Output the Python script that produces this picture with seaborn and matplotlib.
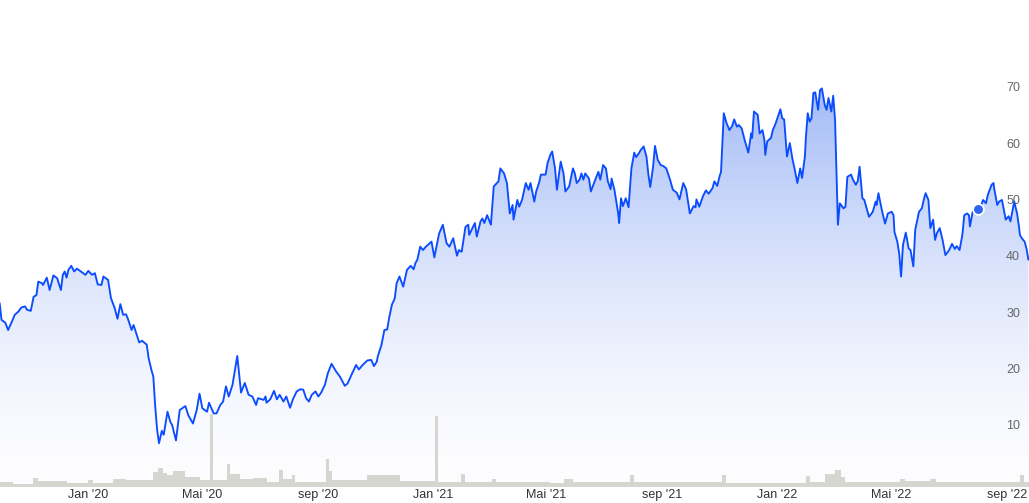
import numpy as np
import pandas as pd
import matplotlib
matplotlib.use("Agg")
import matplotlib.pyplot as plt
import matplotlib.dates as mdates
from matplotlib.ticker import FixedLocator, FixedFormatter
import seaborn as sns

# ---------------- data ----------------
dates = [
"2019-09-29","2019-10-01","2019-10-05","2019-10-08","2019-10-12","2019-10-15","2019-10-19","2019-10-22","2019-10-26","2019-10-28",
"2019-11-01","2019-11-04","2019-11-07","2019-11-09","2019-11-13","2019-11-14","2019-11-18","2019-11-21","2019-11-25","2019-11-29",
"2019-12-03","2019-12-05","2019-12-07","2019-12-09","2019-12-11","2019-12-14","2019-12-17","2019-12-20","2019-12-25","2019-12-29",
"2020-01-01","2020-01-05","2020-01-08","2020-01-11","2020-01-15","2020-01-17","2020-01-22","2020-01-25","2020-01-29","2020-02-01",
"2020-02-04","2020-02-07","2020-02-10","2020-02-12","2020-02-16","2020-02-18","2020-02-24","2020-02-27","2020-03-03","2020-03-05",
"2020-03-08","2020-03-10","2020-03-12","2020-03-14","2020-03-16","2020-03-19","2020-03-21","2020-03-25","2020-03-28","2020-03-30",
"2020-04-03","2020-04-07","2020-04-13","2020-04-16","2020-04-21","2020-04-25","2020-04-28","2020-05-01","2020-05-06","2020-05-08",
"2020-05-13","2020-05-16","2020-05-20","2020-05-23","2020-05-26","2020-05-29","2020-06-02","2020-06-07","2020-06-11","2020-06-15",
"2020-06-19","2020-06-23","2020-06-27","2020-06-29","2020-07-05","2020-07-07","2020-07-08","2020-07-12","2020-07-16","2020-07-19",
"2020-07-22","2020-07-26","2020-07-29","2020-08-02","2020-08-05","2020-08-09","2020-08-13","2020-08-16","2020-08-19","2020-08-22",
"2020-08-25","2020-08-29","2020-09-01","2020-09-04","2020-09-08","2020-09-11","2020-09-15","2020-09-20","2020-09-24","2020-09-29",
"2020-10-02","2020-10-06","2020-10-11","2020-10-14","2020-10-18","2020-10-23","2020-10-27","2020-10-30","2020-11-02","2020-11-03",
"2020-11-07","2020-11-10","2020-11-13","2020-11-15","2020-11-18","2020-11-21","2020-11-23","2020-11-26","2020-11-30","2020-12-04",
"2020-12-08","2020-12-11","2020-12-13","2020-12-15","2020-12-18","2020-12-21","2020-12-24","2020-12-30","2021-01-02","2021-01-07",
"2021-01-11","2021-01-15","2021-01-18","2021-01-22","2021-01-26","2021-01-28","2021-01-31","2021-02-04","2021-02-07","2021-02-08",
"2021-02-14","2021-02-16","2021-02-20","2021-02-22","2021-02-24","2021-02-27","2021-03-03","2021-03-06","2021-03-11","2021-03-13",
"2021-03-17","2021-03-20","2021-03-23","2021-03-26","2021-03-27","2021-03-31","2021-04-02","2021-04-05","2021-04-09","2021-04-12",
"2021-04-14","2021-04-18","2021-04-20","2021-04-23","2021-04-25","2021-04-30","2021-05-02","2021-05-05","2021-05-07","2021-05-10",
"2021-05-12","2021-05-16","2021-05-19","2021-05-21","2021-05-25","2021-05-29","2021-05-31","2021-06-02","2021-06-05","2021-06-07",
"2021-06-09","2021-06-11","2021-06-15","2021-06-17","2021-06-21","2021-06-25","2021-06-27","2021-06-30","2021-07-03","2021-07-05",
"2021-07-08","2021-07-09","2021-07-12","2021-07-16","2021-07-17","2021-07-19","2021-07-21","2021-07-24","2021-07-27","2021-07-30",
"2021-08-02","2021-08-04","2021-08-07","2021-08-09","2021-08-12","2021-08-15","2021-08-17","2021-08-19","2021-08-22","2021-08-24",
"2021-08-27","2021-08-30","2021-09-02","2021-09-05","2021-09-09","2021-09-12","2021-09-16","2021-09-19","2021-09-23","2021-09-26",
"2021-09-30","2021-10-04","2021-10-06","2021-10-07","2021-10-10","2021-10-14","2021-10-17","2021-10-20","2021-10-24","2021-10-26",
"2021-10-29","2021-11-01","2021-11-02","2021-11-05","2021-11-08","2021-11-11","2021-11-14","2021-11-16","2021-11-19","2021-11-21",
"2021-11-24","2021-11-27","2021-12-01","2021-12-04","2021-12-05","2021-12-07","2021-12-11","2021-12-13","2021-12-16","2021-12-18",
"2021-12-19","2021-12-21","2021-12-25","2021-12-27","2021-12-30","2022-01-04","2022-01-06","2022-01-08","2022-01-11","2022-01-14",
"2022-01-17","2022-01-19","2022-01-22","2022-01-25","2022-01-27","2022-01-30","2022-01-31","2022-02-02","2022-02-04","2022-02-06",
"2022-02-08","2022-02-10","2022-02-13","2022-02-15","2022-02-17","2022-02-20","2022-02-22","2022-02-24","2022-02-27","2022-03-01",
"2022-03-03","2022-03-06","2022-03-08","2022-03-12","2022-03-14","2022-03-16","2022-03-20","2022-03-22","2022-03-25","2022-03-27",
"2022-03-29","2022-04-01","2022-04-03","2022-04-08","2022-04-12","2022-04-15","2022-04-16","2022-04-18","2022-04-22","2022-04-25",
"2022-04-28","2022-05-02","2022-05-04","2022-05-05","2022-05-08","2022-05-10","2022-05-12","2022-05-14","2022-05-17","2022-05-20",
"2022-05-22","2022-05-25","2022-05-27","2022-05-31","2022-06-03","2022-06-05","2022-06-07","2022-06-10","2022-06-12","2022-06-15",
"2022-06-17","2022-06-19","2022-06-22","2022-06-25","2022-06-28","2022-07-02","2022-07-05","2022-07-08","2022-07-10","2022-07-13",
"2022-07-16","2022-07-18","2022-07-21","2022-07-23","2022-07-24","2022-07-27","2022-07-29","2022-08-02","2022-08-05","2022-08-07",
"2022-08-10","2022-08-12","2022-08-16","2022-08-18","2022-08-19","2022-08-22","2022-08-24","2022-08-27","2022-08-29","2022-08-31",
"2022-09-03","2022-09-05","2022-09-06","2022-09-09","2022-09-12","2022-09-14","2022-09-15","2022-09-17","2022-09-20","2022-09-22",
"2022-09-24"]

prices = [
31.6, 28.6, 28.1, 26.8, 28.3, 29.5, 30.1, 30.8, 31.0, 30.4,
30.2, 32.7, 33.0, 35.4, 35.1, 34.8, 36.1, 33.9, 36.5, 36.0,
33.9, 36.6, 37.2, 36.1, 37.5, 38.2, 37.2, 37.7, 37.1, 36.6,
37.3, 36.6, 36.9, 34.9, 34.8, 36.3, 35.7, 32.5, 30.7, 28.8,
31.4, 29.5, 29.6, 28.8, 26.8, 27.7, 24.6, 24.9, 24.2, 21.8,
19.7, 18.5, 13.2, 9.1, 6.7, 8.9, 8.2, 12.3, 10.5, 9.9,
7.2, 12.6, 13.3, 11.7, 10.2, 12.6, 15.5, 12.9, 12.3, 13.9,
12.0, 12.0, 13.5, 14.1, 16.8, 15.0, 17.1, 22.2, 15.7, 17.4,
15.3, 15.0, 13.5, 14.7, 14.4, 15.0, 13.9, 14.5, 16.0, 14.5,
15.3, 14.1, 15.0, 13.0, 14.5, 15.9, 16.3, 16.2, 14.7, 14.1,
15.3, 15.9, 15.0, 15.7, 17.1, 19.1, 20.8, 19.4, 18.5, 16.9,
17.3, 18.8, 20.6, 19.8, 20.6, 21.4, 21.5, 20.4, 21.2, 22.1,
24.2, 26.8, 26.9, 28.9, 31.3, 32.4, 35.1, 36.3, 34.5, 37.5,
38.2, 37.6, 38.7, 39.3, 41.6, 41.0, 41.6, 42.5, 39.7, 43.9,
45.5, 42.2, 41.6, 43.1, 40.0, 41.0, 40.7, 45.1, 45.5, 43.7,
45.8, 43.4, 46.1, 46.6, 45.8, 47.2, 45.5, 52.3, 53.2, 55.5,
54.6, 52.9, 47.5, 49.0, 46.4, 49.9, 48.7, 49.9, 52.9, 51.7,
52.9, 49.6, 51.4, 52.9, 54.4, 54.4, 56.4, 57.9, 58.5, 55.5,
51.7, 56.7, 54.6, 51.4, 52.3, 55.5, 54.6, 52.9, 53.5, 54.6,
53.5, 54.6, 53.7, 51.4, 53.2, 54.9, 53.5, 56.1, 55.5, 53.2,
51.8, 53.7, 51.7, 47.5, 45.8, 50.2, 48.8, 50.2, 48.6, 55.5,
58.3, 57.5, 58.2, 58.8, 59.4, 57.6, 54.4, 52.2, 55.8, 59.5,
57.0, 56.1, 55.9, 55.5, 53.5, 51.7, 51.2, 50.0, 52.9, 51.8,
47.5, 48.8, 48.6, 50.0, 48.7, 50.6, 51.6, 51.0, 52.0, 53.2,
52.4, 54.4, 54.8, 65.3, 63.5, 62.3, 63.1, 64.2, 62.9, 63.2,
62.6, 60.6, 58.3, 61.7, 60.9, 65.6, 65.0, 61.7, 62.3, 60.6,
57.9, 60.3, 60.9, 62.3, 63.5, 66.0, 64.4, 64.2, 57.6, 60.0,
57.0, 55.5, 52.9, 55.5, 53.8, 57.6, 60.9, 65.3, 63.8, 64.4,
68.9, 69.0, 65.9, 69.4, 69.7, 66.8, 65.9, 68.0, 65.6, 68.4,
64.1, 45.5, 49.3, 48.4, 48.7, 54.0, 54.4, 53.5, 52.6, 53.2,
55.8, 50.2, 49.9, 46.9, 47.8, 49.6, 49.0, 51.1, 47.8, 45.7,
47.5, 47.8, 47.2, 44.2, 42.5, 40.4, 36.3, 41.9, 44.1, 41.3,
41.0, 38.1, 44.6, 47.8, 48.4, 49.9, 51.1, 49.9, 44.9, 46.4,
42.8, 44.0, 44.9, 42.8, 40.1, 41.0, 42.1, 41.2, 41.7, 41.0,
43.7, 47.2, 47.5, 47.2, 45.2, 47.8, 48.1, 47.8, 49.0, 49.9,
49.3, 50.8, 52.6, 52.9, 51.7, 49.0, 49.6, 49.9, 48.1, 46.4,
47.0, 46.1, 47.0, 49.6, 47.5, 45.2, 43.7, 43.1, 42.5, 41.3,
39.3]

vol_dates = ["2019-09-29","2019-10-13","2019-11-03","2019-11-09","2019-12-09","2020-01-01","2020-01-06",
"2020-01-27","2020-02-10","2020-03-10","2020-03-15","2020-03-20","2020-03-25","2020-03-31","2020-04-13",
"2020-04-28","2020-05-09","2020-05-12","2020-05-27","2020-05-30","2020-06-10","2020-06-24","2020-07-09",
"2020-07-21","2020-07-25","2020-08-04","2020-08-07","2020-09-09","2020-09-12","2020-09-16","2020-10-23",
"2020-11-27","2021-01-03","2021-01-06","2021-01-30","2021-02-04","2021-03-04","2021-03-08","2021-05-05",
"2021-05-19","2021-05-29","2021-07-29","2021-08-02","2021-11-03","2021-11-07","2022-01-31","2022-02-04",
"2022-02-20","2022-03-03","2022-03-09","2022-03-13","2022-05-11","2022-05-16","2022-06-12","2022-06-18",
"2022-09-15","2022-09-19"]
volumes = [0.5, 0.33, 0.93, 0.6, 0.4, 0.67, 0.4,
0.83, 0.67, 1.5, 1.9, 1.4, 1.2, 1.6, 1.0,
0.67, 7.3, 0.7, 2.27, 1.3, 0.8, 0.9, 0.5,
1.7, 0.8, 1.17, 0.5, 2.8, 1.6, 0.7, 1.17,
0.6, 7.1, 0.5, 1.27, 0.5, 0.83, 0.5, 0.4,
0.83, 0.5, 1.17, 0.5, 1.17, 0.43, 1.1, 0.5,
1.3, 1.67, 1.0, 0.5, 0.83, 0.6, 0.83, 0.5,
1.17, 0.5]

marker_date = "2022-08-02"
marker_value = 48.3

tick_dates = ["2020-01-01", "2020-05-01", "2020-09-01", "2021-01-01", "2021-05-01",
              "2021-09-01", "2022-01-01", "2022-05-01", "2022-09-01"]
tick_labels = ["Jan '20", "Mai '20", "sep '20", "Jan '21", "Mai '21",
               "sep '21", "Jan '22", "Mai '22", "sep '22"]
y_ticks = [10, 20, 30, 40, 50, 60, 70]

# ---------------- style ----------------
sns.set_theme(style="white")
plt.rcParams["font.family"] = ["Liberation Sans", "DejaVu Sans"]

W, H = 1029, 503
fig = plt.figure(figsize=(W / 100, H / 100), dpi=100)
rect = [0, 16 / H, 1, 487 / H]
ax = fig.add_axes(rect)          # gradient fill + ticks
axv = fig.add_axes(rect)         # volume bars
axl = fig.add_axes(rect)         # price line + marker

x = pd.to_datetime(dates)
xn = mdates.date2num(x)
y = np.array(prices, dtype=float)
ymin, ymax = -1.07, 85.4
x0 = mdates.date2num(pd.Timestamp("2019-09-29 09:00"))
x1 = mdates.date2num(pd.Timestamp("2022-09-24 16:00"))

# gradient area under the line (fades towards the bottom)
poly = ax.fill_between(xn, y, ymin, facecolor="none", edgecolor="none")
top = np.array([163, 187, 246]) / 255.0
bot = np.array([253, 253, 255]) / 255.0
t = (np.linspace(0, 1, 256) ** 1.6)[:, None]
img = (bot + (top - bot) * t)[:, None, :]
im = ax.imshow(img, extent=[x0, x1, ymin, y.max()], origin="lower",
               aspect="auto", interpolation="bilinear", zorder=1)
im.set_clip_path(poly.get_paths()[0], transform=ax.transData)

# volume bars
vd = mdates.date2num(pd.to_datetime(vol_dates))
edges = np.append(vd, x1 + 1)
widths = np.diff(edges)
axv.bar(vd, volumes, width=widths, align="edge", color="#d6d6d0",
        edgecolor="none", linewidth=0)
axv.set_ylim(0, 48.7)

# price line
sns.lineplot(x=xn, y=y, ax=axl, color="#0b4cff", linewidth=1.35,
             estimator=None, sort=False)
axl.scatter([mdates.date2num(pd.Timestamp(marker_date))], [marker_value],
            s=60, color="#2f64f0", edgecolor="white", linewidth=1.3, zorder=5)

for a in (ax, axv, axl):
    a.set_xlim(x0, x1)
    for s in a.spines.values():
        s.set_visible(False)
    a.grid(False)
for a in (axv, axl):
    a.patch.set_visible(False)
    a.set_xticks([])
    a.set_yticks([])
    a.set_xlabel("")
    a.set_ylabel("")
ax.set_ylim(ymin, ymax)
axl.set_ylim(ymin, ymax)
ax.set_axisbelow(False)

ax.xaxis.set_major_locator(FixedLocator(mdates.date2num(pd.to_datetime(tick_dates))))
ax.xaxis.set_major_formatter(FixedFormatter(tick_labels))
ax.set_yticks(y_ticks)
ax.set_yticklabels([str(v) for v in y_ticks])
ax.tick_params(axis="x", length=0, pad=1.5, labelsize=9, labelcolor="#333333")
ax.tick_params(axis="y", length=0, left=False, right=False, labelleft=False,
               labelright=True, pad=-16.5, labelsize=9, labelcolor="#666666")

fig.savefig("out.png", dpi=100)
